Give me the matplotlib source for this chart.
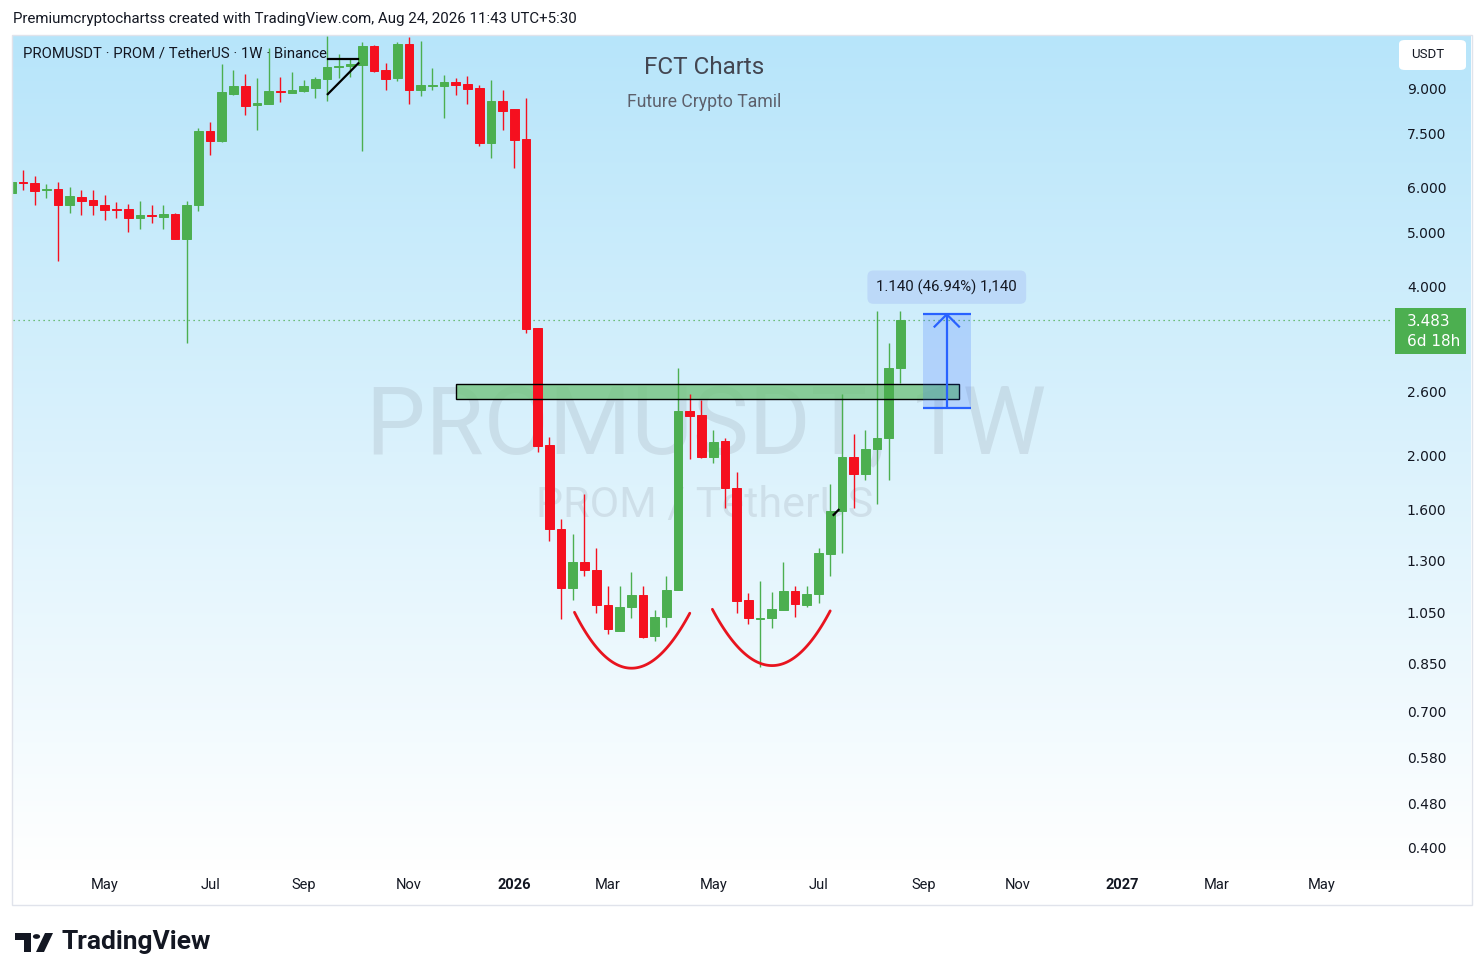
import numpy as np
import pandas as pd
import matplotlib
matplotlib.use('Agg')
import matplotlib.pyplot as plt
import matplotlib.dates as mdates
from matplotlib.patches import Rectangle, FancyBboxPatch, Circle, Polygon
from matplotlib.ticker import NullLocator

# ---------------- data ----------------
first_week = '2025-03-10'          # weekly candles, Mondays
opens = [5.88, 6.15, 6.13, 5.95, 5.97, 5.58, 5.78, 5.71, 5.59, 5.51,
         5.50, 5.29, 5.37, 5.33, 5.39, 4.87, 5.58, 7.58, 7.27, 8.82,
         9.11, 8.42, 8.47, 8.93, 8.86, 8.94, 9.05, 9.37, 9.84, 9.89,
         9.93, 10.74, 9.74, 9.41, 10.82, 8.97, 9.11, 9.12, 9.26, 9.19,
         9.05, 7.22, 8.57, 8.29, 7.33, 3.37, 2.09, 1.48, 1.16, 1.29,
         1.25, 1.084, 0.975, 1.073, 1.129, 0.954, 1.030, 1.152, 2.40, 2.36,
         1.99, 2.12, 1.75, 1.105, 1.023, 1.026, 1.061, 1.147, 1.083, 1.134,
         1.335, 1.59, 1.99, 1.85, 2.05, 2.15, 2.86]
highs = [6.20, 6.45, 6.30, 6.09, 6.15, 6.03, 5.95, 5.95, 5.83, 5.65,
         5.61, 5.68, 5.59, 5.59, 5.40, 5.69, 7.66, 7.85, 9.96, 9.73,
         9.56, 9.40, 10.64, 9.47, 9.64, 9.34, 9.47, 11.20, 10.38, 10.23,
         10.93, 10.78, 10.00, 10.90, 11.15, 10.97, 9.82, 9.53, 9.43, 9.49,
         9.15, 9.34, 8.96, 8.29, 8.68, 3.37, 2.16, 1.54, 1.45, 1.71,
         1.37, 1.17, 1.17, 1.24, 1.17, 1.061, 1.22, 2.86, 2.57, 2.51,
         2.22, 2.15, 1.87, 1.137, 1.195, 1.14, 1.29, 1.17, 1.17, 1.37,
         1.78, 2.57, 2.18, 2.22, 3.62, 3.17, 3.62]
lows = [5.85, 5.95, 5.60, 5.75, 4.45, 5.42, 5.37, 5.37, 5.26, 5.29,
        5.01, 5.07, 5.20, 5.07, 4.87, 3.17, 5.46, 6.87, 7.25, 8.78,
        8.09, 7.62, 8.47, 8.54, 8.84, 8.88, 8.66, 8.58, 9.40, 9.47,
        6.99, 9.66, 8.96, 9.31, 8.46, 8.75, 8.96, 8.00, 8.78, 8.46,
        7.12, 6.79, 7.61, 6.50, 3.30, 2.03, 1.41, 1.022, 1.105, 1.22,
        1.047, 0.961, 0.975, 1.026, 0.945, 0.934, 0.988, 1.152, 1.97, 1.98,
        1.94, 1.61, 1.047, 1.002, 0.841, 0.984, 1.061, 1.030, 1.073, 1.091,
        1.22, 1.34, 1.61, 1.81, 1.64, 1.81, 2.69]
closes = [6.15, 6.11, 5.93, 5.97, 5.58, 5.80, 5.69, 5.58, 5.48, 5.48,
          5.29, 5.36, 5.35, 5.38, 4.87, 5.59, 7.58, 7.28, 8.88, 9.11,
          8.40, 8.49, 8.93, 8.89, 8.96, 9.11, 9.39, 9.85, 9.89, 9.96,
          10.74, 9.69, 9.39, 10.82, 8.97, 9.15, 9.15, 9.26, 9.15, 9.00,
          7.20, 8.57, 8.22, 7.30, 3.36, 2.08, 1.48, 1.16, 1.29, 1.25,
          1.083, 0.980, 1.073, 1.129, 0.951, 1.030, 1.152, 2.40, 2.355, 1.99,
          2.11, 1.75, 1.10, 1.026, 1.028, 1.064, 1.147, 1.088, 1.134, 1.34,
          1.59, 1.99, 1.85, 2.05, 2.15, 2.86, 3.483]
last_price = 3.483
countdown = '6d 18h'

price_ticks = [9.0, 7.5, 6.0, 5.0, 4.0, 2.6, 2.0, 1.6, 1.3, 1.05, 0.85, 0.7, 0.58, 0.48, 0.4]
time_tick_months = ['2025-05', '2025-07', '2025-09', '2025-11', '2026-01', '2026-03', '2026-05',
                    '2026-07', '2026-09', '2026-11', '2027-01', '2027-03', '2027-05']
time_tick_labels = ['May', 'Jul', 'Sep', 'Nov', '2026', 'Mar', 'May', 'Jul', 'Sep', 'Nov',
                    '2027', 'Mar', 'May']

zone_start, zone_end = '2025-12-01', '2026-09-28'
zone_low, zone_high = 2.52, 2.68
measure_start, measure_end = '2026-09-06 10:00', '2026-10-05 02:00'
measure_from, measure_to = 2.4286, 3.5686
measure_label = '1.140 (46.94%) 1,140'
measure_label_price = 3.99
arc_points = [
    [('2026-02-10', 1.051), ('2026-03-16', 0.8355), ('2026-04-20', 1.047)],
    [('2026-05-03 12:00', 1.064), ('2026-06-08', 0.8445), ('2026-07-13', 1.057)],
]
black_lines = [
    [('2025-09-15 10:00', 10.17), ('2025-10-03 17:00', 10.17)],
    [('2025-09-15 10:00', 8.81), ('2025-10-03 17:00', 10.00)],
    [('2026-07-15', 1.567), ('2026-07-18', 1.60)],
]

header_text = 'Premiumcryptochartss created with TradingView.com, Aug 24, 2026 11:43 UTC+5:30'
legend_text = 'PROMUSDT · PROM / TetherUS · 1W · Binance'
title_text = 'FCT Charts'
subtitle_text = 'Future Crypto Tamil'
wm_main = 'PROMUSDT, 1W'
wm_sub = 'PROM / TetherUS'

# ---------------- styles ----------------
GREEN = '#4caf50'
RED = '#f5101f'
BLUE = '#2962ff'
TXT = '#131722'
UI_FONT = ['Roboto', 'DejaVu Sans']

W, H = 1484, 980
fig = plt.figure(figsize=(W / 100, H / 100), dpi=100)
fig.patch.set_facecolor('white')


def fbox(x0, y0, x1, y1):
    return [x0 / W, 1 - y1 / H, (x1 - x0) / W, (y1 - y0) / H]


def fp(x, y):
    return (x / W, 1 - y / H)


# background gradient (pane + price scale)
bg = fig.add_axes(fbox(13, 35, 1471, 905), zorder=0)
rows = 870
yy = np.arange(rows)
f = np.clip(yy / 835.0, 0, 1)[:, None]
top = np.array([183, 229, 250]) / 255.0
bot = np.array([255, 255, 255]) / 255.0
grad = top * (1 - f) + bot * f
img = np.repeat(grad[:, None, :], 2, axis=1)
bg.imshow(img, aspect='auto', extent=[0, 1, 870, 0], interpolation='bilinear')
bg.set_xlim(0, 1)
bg.set_ylim(870, 0)
bg.axis('off')

# frame
fig.patches.append(Rectangle(fp(12.5, 905), 1459 / W, 870 / H, transform=fig.transFigure,
                             fill=False, edgecolor='#e0e3eb', lw=1.0, zorder=5))

# watermark
fig.text(*fp(706, 453), wm_main, ha='center', va='baseline', fontsize=68,
         family=UI_FONT, color='#787b86', alpha=0.16, zorder=1)
fig.text(*fp(705, 517), wm_sub, ha='center', va='baseline', fontsize=31,
         family=UI_FONT, color='#787b86', alpha=0.16, zorder=1)

# main axes
ax = fig.add_axes(fbox(13, 35, 1393, 870), zorder=2)
ax.set_facecolor('none')
for s in ax.spines.values():
    s.set_visible(False)
ax.set_yscale('log')
ax.set_ylim(0.365, 11.23)

dates = pd.date_range(first_week, periods=len(opens), freq='7D')
xs = mdates.date2num(dates)
last_x = xs[-1]
ax.set_xlim(last_x - 530.9, last_x + 294.7)

o = np.array(opens); h = np.array(highs); l = np.array(lows); c = np.array(closes)
cols = [GREEN if cc >= oo else RED for oo, cc in zip(o, c)]

# resistance zone
zx0 = mdates.date2num(pd.Timestamp(zone_start)); zx1 = mdates.date2num(pd.Timestamp(zone_end))
ax.add_patch(Rectangle((zx0, zone_low), zx1 - zx0, zone_high - zone_low,
                       facecolor='#74c47f', alpha=0.8, edgecolor='none', zorder=2))
ax.add_patch(Rectangle((zx0, zone_low), zx1 - zx0, zone_high - zone_low,
                       fill=False, edgecolor='black', lw=1.0, zorder=4))

# candles
ax.vlines(xs, l, h, colors=cols, lw=1.0, zorder=3)
ax.bar(xs, np.abs(c - o), bottom=np.minimum(o, c), width=5.2, color=cols,
       edgecolor=cols, linewidth=0.7, zorder=3)

# last price dotted line
ax.axhline(last_price, color=GREEN, lw=0.9, ls=(0, (1, 3)), zorder=2)

# arcs (parabolic through three anchor points)
t = np.linspace(0, 1, 100)
for pts in arc_points:
    P = np.array([[mdates.date2num(pd.Timestamp(d)), np.log(v)] for d, v in pts])
    ctrl = 2 * P[1] - (P[0] + P[2]) / 2
    curve = ((1 - t) ** 2)[:, None] * P[0] + (2 * t * (1 - t))[:, None] * ctrl + (t ** 2)[:, None] * P[2]
    ax.plot(curve[:, 0], np.exp(curve[:, 1]), color='#e8141f', lw=2.0, zorder=5,
            solid_capstyle='round')

for seg in black_lines:
    sx = [mdates.date2num(pd.Timestamp(d)) for d, _ in seg]
    sy = [v for _, v in seg]
    ax.plot(sx, sy, color='black', lw=1.6, zorder=5)

# measurement tool
mx0 = mdates.date2num(pd.Timestamp(measure_start)); mx1 = mdates.date2num(pd.Timestamp(measure_end))
mxc = (mx0 + mx1) / 2
ax.add_patch(Rectangle((mx0, measure_from), mx1 - mx0, measure_to - measure_from,
                       facecolor=BLUE, alpha=0.2, edgecolor='none', zorder=5))
ax.hlines([measure_from, measure_to], mx0, mx1, colors=BLUE, lw=1.6, zorder=6)
ax.vlines([mxc], measure_from, measure_to, colors=BLUE, lw=1.6, zorder=6)
# open arrow head (arms of 13 px in screen space)
tip = ax.transData.transform((mxc, measure_to))
inv = ax.transData.inverted()
for dxp in (-13, 13):
    arm = inv.transform(tip + np.array([dxp, -13]))
    ax.plot([arm[0], mxc], [arm[1], measure_to], color=BLUE, lw=1.6, zorder=6,
            solid_capstyle='butt')
ax.text(mxc, measure_label_price, measure_label, ha='center', va='center', fontsize=10.8,
        family=UI_FONT, color=TXT, zorder=7,
        bbox=dict(boxstyle='round,pad=0.6,rounding_size=0.4', facecolor='#bcd9f8',
                  edgecolor='none'))

# y axis (price scale)
ax.yaxis.tick_right()
ax.set_yticks(price_ticks)
ax.set_yticklabels([f'{v:.3f}' for v in price_ticks])
ax.yaxis.set_minor_locator(NullLocator())
ax.tick_params(axis='y', length=0, pad=10, labelsize=10, labelcolor=TXT)
for lab in ax.get_yticklabels():
    lab.set_family(['DejaVu Sans'])

# x axis (time scale)
tick_pos = []
for m in time_tick_months:
    d = pd.Timestamp(m + '-01')
    d = d + pd.Timedelta(days=(7 - d.weekday()) % 7)
    tick_pos.append(mdates.date2num(d))
ax.set_xticks(tick_pos)
ax.set_xticklabels(time_tick_labels)
ax.xaxis.set_minor_locator(NullLocator())
ax.tick_params(axis='x', length=0, pad=5.5, labelsize=10.5, labelcolor=TXT)
for lab in ax.get_xticklabels():
    lab.set_family(UI_FONT)
    if lab.get_text().isdigit():
        lab.set_fontweight('bold')

# price label boxes
fig.patches.append(FancyBboxPatch(fp(1399, 70), 67 / W, 30 / H, transform=fig.transFigure,
                                  boxstyle='round,pad=0,rounding_size=0.004',
                                  facecolor='white', edgecolor='none', zorder=6))
fig.text(*fp(1428, 55), 'USDT', ha='center', va='center', fontsize=9.5, family=UI_FONT,
         color=TXT, zorder=7)
fig.patches.append(Rectangle(fp(1395, 354), 71 / W, 46 / H, transform=fig.transFigure,
                             facecolor=GREEN, edgecolor='none', zorder=6))
fig.text(*fp(1407, 322), f'{last_price:.3f}', ha='left', va='center', fontsize=11,
         family=['DejaVu Sans'], color='white', zorder=7)
fig.text(*fp(1407, 342), countdown, ha='left', va='center', fontsize=11,
         family=['DejaVu Sans'], color='white', zorder=7)

# texts
fig.text(*fp(13, 19), header_text, ha='left', va='center', fontsize=10.8, family=UI_FONT,
         color=TXT)
fig.text(*fp(23, 54), legend_text, ha='left', va='center', fontsize=10.7, family=UI_FONT,
         color=TXT, zorder=7)
fig.text(*fp(704, 67), title_text, ha='center', va='center', fontsize=17.5, family=UI_FONT,
         color='#434651', zorder=7)
fig.text(*fp(704, 102), subtitle_text, ha='center', va='center', fontsize=12.7, family=UI_FONT,
         color='#5d606b', zorder=7)

# TradingView logo
logo_col = '#131722'
fig.patches.append(Polygon([fp(15, 933), fp(31, 933), fp(31, 952), fp(24, 952), fp(24, 940), fp(15, 940)],
                           closed=True, transform=fig.transFigure, facecolor=logo_col,
                           edgecolor='none'))
fig.patches.append(Circle(fp(36.5, 936.5), 3.6 / W, transform=fig.transFigure,
                          facecolor=logo_col, edgecolor='none'))
fig.patches.append(Polygon([fp(45, 933), fp(53, 933), fp(44, 952), fp(36, 952)],
                           closed=True, transform=fig.transFigure, facecolor=logo_col,
                           edgecolor='none'))
fig.text(*fp(61, 942), 'TradingView', ha='left', va='center', fontsize=19,
         fontweight='bold', family=UI_FONT, color=logo_col)

fig.savefig('out.png', dpi=100, facecolor='white')
